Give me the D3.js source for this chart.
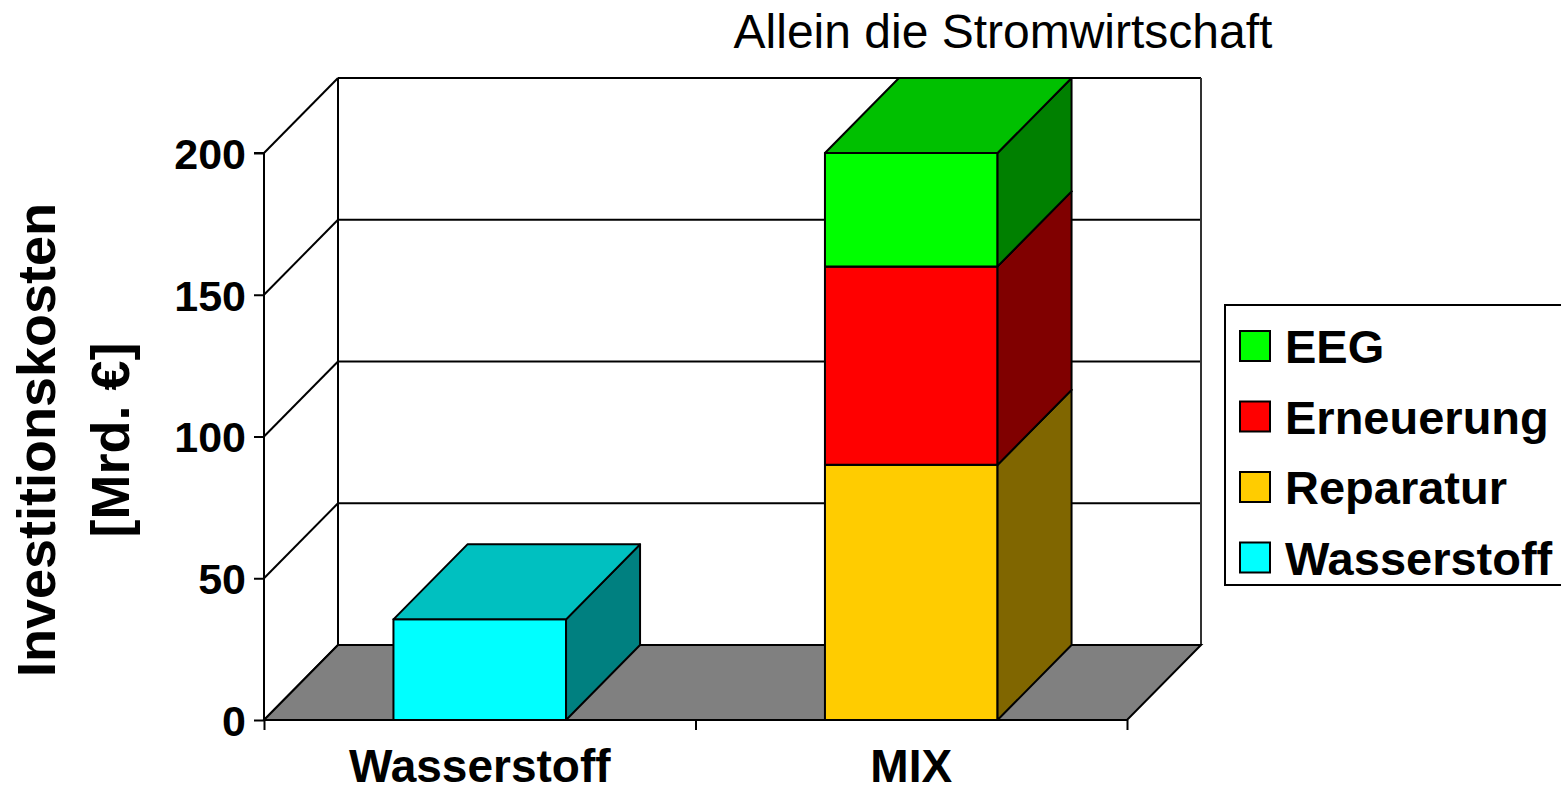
<!DOCTYPE html>
<html><head><meta charset="utf-8">
<script src="https://cdn.jsdelivr.net/npm/d3@7"></script>
<style>html,body{margin:0;padding:0;background:#fff;}svg{display:block;font-family:Arial,"Liberation Sans",sans-serif;}</style>
</head><body>
<svg id="chart" width="1561" height="793"></svg>
<script>
// ---- data ----
const categories = ["Wasserstoff", "MIX"];
const seriesNames = ["Wasserstoff", "Reparatur", "Erneuerung", "EEG"];
const wasserstoffValues = [35.5, 0];
const reparaturValues = [0, 90];
const erneuerungValues = [0, 70];
const eegValues = [0, 40];
const yTickValues = [0, 50, 100, 150, 200];
const legendOrder = ["EEG", "Erneuerung", "Reparatur", "Wasserstoff"];
const titleText = "Allein die Stromwirtschaft";
const yTitleLines = ["Investitionskosten", "[Mrd. €]"];

// ---- styles ----
const colors = {
  Wasserstoff: {front: "#00FFFF", side: "#008080", top: "#00C0C0"},
  Reparatur:   {front: "#FFCC00", side: "#806600", top: "#C09A00"},
  Erneuerung:  {front: "#FF0000", side: "#800000", top: "#C00000"},
  EEG:         {front: "#00FF00", side: "#008000", top: "#00C000"}
};

const svg = d3.select("#chart");
const left = 264, right = 1127, bottom = 720, topY = 153;
const dx = 74, dy = -75;

const y = d3.scaleLinear().domain([0, 200]).range([bottom, topY]);
const x = d3.scaleBand().domain(categories).range([left, right]).paddingInner(0.6).paddingOuter(0.3);
const xEdges = d3.scalePoint().domain(d3.range(categories.length + 1)).range([left, right]);

const valuesBySeries = {
  Wasserstoff: wasserstoffValues,
  Reparatur: reparaturValues,
  Erneuerung: erneuerungValues,
  EEG: eegValues
};
const table = categories.map((c, i) => {
  const o = {cat: c};
  seriesNames.forEach(s => o[s] = valuesBySeries[s][i]);
  return o;
});
const stacked = d3.stack().keys(seriesNames)(table);

// ---- back wall & side wall ----
const walls = svg.append("g").attr("stroke", "#000").attr("stroke-width", 2).attr("fill", "none");
yTickValues.forEach(v => {
  walls.append("line").attr("x1", left + dx).attr("x2", right + dx)
    .attr("y1", y(v) + dy).attr("y2", y(v) + dy);
  walls.append("line").attr("x1", left).attr("y1", y(v))
    .attr("x2", left + dx).attr("y2", y(v) + dy);
});
walls.append("line").attr("x1", left + dx).attr("x2", left + dx).attr("y1", y(200) + dy).attr("y2", y(0) + dy);
walls.append("line").attr("x1", right + dx).attr("x2", right + dx).attr("y1", y(200) + dy).attr("y2", y(0) + dy).attr("stroke", "#333");

// ---- floor ----
svg.append("polygon")
  .attr("points", [[left, y(0)], [right, y(0)], [right + dx, y(0) + dy], [left + dx, y(0) + dy]].map(p => p.join(",")).join(" "))
  .attr("fill", "#808080").attr("stroke", "#000").attr("stroke-width", 2);

// ---- axes ----
const yAxis = d3.axisLeft(y).tickValues(yTickValues).tickSize(10).tickFormat(d3.format("d"));
const gy = svg.append("g").attr("transform", `translate(${left},0)`).call(yAxis);
gy.select(".domain").attr("stroke-width", 2).attr("d", `M-10,${y(200)}H0V${y(0)}`);
gy.selectAll(".tick line").attr("stroke-width", 2);
gy.selectAll(".tick text").attr("font-size", 43).attr("font-weight", "bold").attr("fill", "#000")
  .attr("x", -18).attr("dy", "0.36em");

const xAxis = d3.axisBottom(xEdges).tickSize(10).tickFormat("");
const gx = svg.append("g").attr("transform", `translate(0,${bottom})`).call(xAxis);
gx.select(".domain").attr("stroke-width", 2).attr("d", `M${left},0H${right}`);
gx.selectAll(".tick line").attr("stroke-width", 2);

svg.append("g").selectAll("text").data(categories).join("text")
  .attr("x", d => x(d) + x.bandwidth() / 2).attr("y", 782)
  .attr("text-anchor", "middle").attr("font-size", 46).attr("font-weight", "bold")
  .text(d => d);

// ---- bars ----
const bars = svg.append("g").attr("stroke", "#000").attr("stroke-width", 2).attr("stroke-linejoin", "round");
stacked.forEach(layer => {
  const key = layer.key;
  layer.forEach((seg, i) => {
    if (seg[1] - seg[0] <= 0) return;
    const cat = categories[i];
    const x0 = x(cat), x1 = x(cat) + x.bandwidth();
    const yb = y(seg[0]), yt = y(seg[1]);
    const g = bars.append("g");
    g.append("rect").attr("x", x0).attr("y", yt).attr("width", x1 - x0).attr("height", yb - yt)
      .attr("fill", colors[key].front);
    g.append("polygon").attr("points", [[x1, yb], [x1 + dx, yb + dy], [x1 + dx, yt + dy], [x1, yt]].map(p => p.join(",")).join(" "))
      .attr("fill", colors[key].side);
    g.append("polygon").attr("points", [[x0, yt], [x1, yt], [x1 + dx, yt + dy], [x0 + dx, yt + dy]].map(p => p.join(",")).join(" "))
      .attr("fill", colors[key].top);
  });
});

// ---- title ----
svg.append("text").attr("x", 1003).attr("y", 48).attr("text-anchor", "middle")
  .attr("font-size", 48).text(titleText);

// ---- y title ----
const ytg = svg.append("g").attr("transform", "translate(0,440) rotate(-90)");
ytg.append("text").attr("x", 0).attr("y", 55).attr("text-anchor", "middle")
  .attr("font-size", 54).attr("font-weight", "bold").text(yTitleLines[0]);
ytg.append("text").attr("x", 0).attr("y", 129).attr("text-anchor", "middle")
  .attr("font-size", 54).attr("font-weight", "bold").text(yTitleLines[1]);

// ---- legend ----
const lg = svg.append("g");
lg.append("rect").attr("x", 1225).attr("y", 305).attr("width", 345).attr("height", 280)
  .attr("fill", "#fff").attr("stroke", "#000").attr("stroke-width", 2);
const rows = lg.selectAll("g.row").data(legendOrder).join("g").attr("class", "row")
  .attr("transform", (d, i) => `translate(1240,${331 + i * 70.5})`);
rows.append("rect").attr("width", 30).attr("height", 30)
  .attr("fill", d => colors[d].front).attr("stroke", "#000").attr("stroke-width", 2);
rows.append("text").attr("x", 45).attr("y", 32).attr("font-size", 47).attr("font-weight", "bold").text(d => d);
</script>
</body></html>
